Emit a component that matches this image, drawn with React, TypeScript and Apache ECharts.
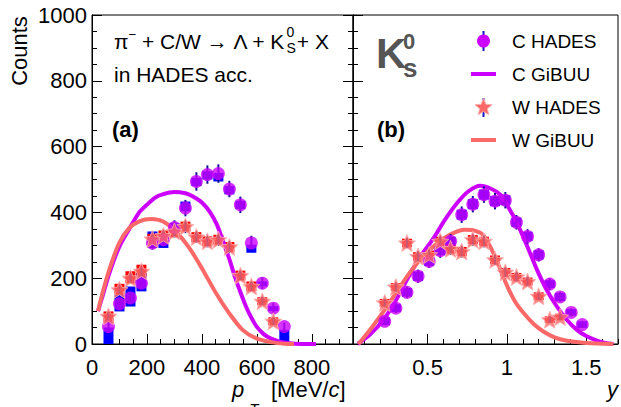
import React, { useEffect, useRef } from 'react';
import * as echarts from 'echarts';

const FONT = '"Liberation Sans", Arial, Helvetica, sans-serif';

// ---------- Panel (a): transverse momentum ----------
const ptX = [60, 100, 140, 180, 220, 260, 300, 340, 380, 420, 460, 500, 540, 580, 620, 660, 700];
const ptC = [53, 122, 140, 185, 307, 317, 354, 413, 494, 515, 518, 471, 423, 307, 185, 109, 53];
const ptCStat = [12, 15, 15, 18, 20, 20, 22, 25, 28, 28, 28, 25, 25, 22, 18, 15, 12];
const ptCBoxLo = [0, 99, 114, 160, 292, 292, 342, 403, 480, 500, 494, 455, 410, 277, 175, 100, 0];
const ptCBoxHi = [50, 150, 175, 216, 342, 325, 368, 433, 505, 525, 520, 480, 435, 302, 190, 115, 43];

const ptWX = [60, 100, 140, 180, 220, 260, 300, 340, 380, 420, 460, 500, 540, 580, 620, 660];
const ptW = [84, 165, 200, 221, 319, 329, 342, 357, 325, 312, 317, 295, 208, 175, 130, 69];
const ptWStat = [12, 15, 15, 15, 18, 18, 18, 20, 18, 18, 18, 18, 15, 15, 12, 10];
const ptWBoxLo = [64, 150, 185, 205, 300, 310, 325, 342, 310, 297, 302, 280, 193, 160, 118, 57];
const ptWBoxHi = [99, 183, 221, 241, 335, 345, 355, 372, 340, 327, 332, 310, 223, 190, 142, 81];

const ptGibuuC = [
  [22, 100], [40, 150], [63, 215], [99, 295], [136, 350], [170, 398], [196, 420], [230, 445],
  [257, 455], [300, 462], [340, 458], [366, 449], [400, 430], [430, 400], [455, 362], [480, 305],
  [500, 258], [520, 205], [540, 158], [560, 115], [580, 80], [600, 52], [625, 30], [650, 17],
  [680, 8], [720, 2], [760, 0], [815, 0],
];
const ptGibuuW = [
  [22, 100], [40, 160], [63, 226], [99, 307], [136, 353], [172, 373], [215, 380], [257, 373],
  [305, 342], [354, 292], [403, 226], [451, 155], [499, 94], [548, 43], [596, 18], [657, 5],
  [700, 1], [735, 0],
];

// ---------- Panel (b): rapidity ----------
const yX = [0.23, 0.30, 0.37, 0.44, 0.51, 0.58, 0.645, 0.715, 0.785, 0.855, 0.925, 0.99, 1.06, 1.13, 1.2, 1.27, 1.335, 1.405, 1.475];
const yC = [69, 109, 157, 206, 251, 284, 312, 393, 425, 454, 434, 437, 370, 327, 271, 182, 143, 96, 59];
const yCStat = [12, 15, 18, 20, 20, 22, 22, 25, 25, 25, 25, 25, 22, 22, 20, 18, 15, 12, 10];
const yCSys = [12, 12, 13, 14, 14, 14, 14, 15, 15, 15, 15, 15, 14, 14, 14, 12, 12, 10, 10];

const yWX = [0.23, 0.30, 0.37, 0.44, 0.51, 0.58, 0.645, 0.715, 0.785, 0.855, 0.925, 0.99, 1.06, 1.13, 1.2, 1.27, 1.335];
const yW = [125, 173, 307, 266, 271, 312, 289, 281, 317, 312, 256, 218, 204, 190, 145, 74, 82];
const yWStat = [12, 14, 16, 16, 16, 18, 18, 18, 18, 18, 16, 15, 15, 14, 12, 10, 10];
const yWSys = [12, 12, 13, 13, 13, 14, 14, 14, 14, 14, 13, 13, 12, 12, 12, 10, 10];

const yGibuuC = [
  [0.06, 0], [0.14, 30], [0.223, 74], [0.30, 132], [0.37, 195], [0.45, 262], [0.538, 322],
  [0.61, 378], [0.685, 428], [0.76, 465], [0.832, 481], [0.90, 472], [0.958, 454], [1.01, 415],
  [1.063, 368], [1.13, 295], [1.189, 226], [1.25, 165], [1.315, 114], [1.38, 72], [1.441, 43],
  [1.50, 24], [1.567, 10], [1.62, 3], [1.671, 0],
];
const yGibuuW = [
  [0.065, 0], [0.14, 45], [0.223, 99], [0.30, 155], [0.37, 205], [0.45, 255], [0.538, 297],
  [0.64, 332], [0.737, 347], [0.80, 344], [0.853, 330], [0.916, 275], [1.0, 178], [1.05, 130],
  [1.105, 94], [1.17, 60], [1.23, 38], [1.30, 20], [1.378, 10], [1.5, 3], [1.671, 0],
];

// tick values
const ptMajor = [0, 200, 400, 600, 800];
const ptMinor = [50, 100, 150, 250, 300, 350, 450, 500, 550, 650, 700, 750, 850, 900];
const yMajor = [0.5, 1, 1.5];
const yMinor = [0.1, 0.2, 0.3, 0.4, 0.6, 0.7, 0.8, 0.9, 1.1, 1.2, 1.3, 1.4, 1.6, 1.7];

const PURPLE = '#cc00ff';
const SALMON = '#fa6868';
const BAR = '#10109a';

function starPath() {
  let d = '';
  for (let k = 0; k < 10; k++) {
    const r = k % 2 ? 0.45 : 1;
    const a = -Math.PI / 2 + (k * Math.PI) / 5;
    d += (k ? 'L' : 'M') + (r * Math.cos(a)).toFixed(4) + ',' + (r * Math.sin(a)).toFixed(4) + ' ';
  }
  return d + 'Z';
}
function starPoints(cx: number, cy: number, R: number) {
  const pts: number[][] = [];
  for (let k = 0; k < 10; k++) {
    const r = k % 2 ? 0.45 * R : R;
    const a = -Math.PI / 2 + (k * Math.PI) / 5;
    pts.push([cx + r * Math.cos(a), cy + r * Math.sin(a)]);
  }
  return pts;
}

const boxSeries = (xs: number[], lo: number[], hi: number[], color: string, xi: number) => ({
  type: 'custom',
  xAxisIndex: xi,
  yAxisIndex: xi,
  encode: { x: 0, y: [1, 2] },
  data: xs.map((x, i) => [x, lo[i], hi[i]]),
  renderItem: (_p: any, api: any) => {
    const a = api.coord([api.value(0), api.value(2)]);
    const b = api.coord([api.value(0), api.value(1)]);
    return { type: 'rect', shape: { x: a[0] - 5, y: a[1], width: 10, height: b[1] - a[1] }, style: { fill: color } };
  },
  z: 1,
});
const barSeries = (xs: number[], ys: number[], err: number[], xi: number) => ({
  type: 'custom',
  xAxisIndex: xi,
  yAxisIndex: xi,
  encode: { x: 0, y: [1, 2] },
  data: xs.map((x, i) => [x, ys[i] - err[i], ys[i] + err[i]]),
  renderItem: (_p: any, api: any) => {
    const a = api.coord([api.value(0), api.value(2)]);
    const b = api.coord([api.value(0), api.value(1)]);
    return { type: 'line', shape: { x1: a[0], y1: a[1], x2: b[0], y2: b[1] }, style: { stroke: BAR, lineWidth: 2 } };
  },
  z: 3,
});
const curve = (data: number[][], color: string, xi: number, z: number) => ({
  type: 'line',
  xAxisIndex: xi,
  yAxisIndex: xi,
  data,
  smooth: 0.3,
  symbol: 'none',
  lineStyle: { color, width: 4 },
  z,
});

export default function App() {
  const ref = useRef<HTMLDivElement>(null);
  useEffect(() => {
    if (!ref.current) return;
    const chart = echarts.init(ref.current, null, { renderer: 'svg' });
    const ctx = document.createElement('canvas').getContext('2d')!;
    const tw = (t: string, size: number, extra = '') => {
      ctx.font = `${extra} ${size}px "Liberation Sans"`;
      return ctx.measureText(t).width;
    };

    const mainSize = 21;
    const x0 = 114;
    const wPi = tw('π', mainSize);
    const wMinus = tw('−', 13);
    const mid = ' + C/W → Λ + K';
    const xK = x0 + wPi + wMinus + tw(mid, mainSize);
    const xPlus = xK + tw('S', 14) + 1;

    const xp = 232;
    const wp = tw('p', 22, 'italic');
    const xBr = 271;
    const wMeV = tw('[MeV/', 22);
    const wc = tw('c', 22, 'italic');

    const txt = (text: string, x: number, y: number, size: number, opts: any = {}) => ({
      type: 'text',
      x,
      y,
      silent: true,
      rotation: opts.rotation || 0,
      style: {
        text,
        fontSize: size,
        fontFamily: FONT,
        fontWeight: opts.bold ? 'bold' : 'normal',
        fontStyle: opts.italic ? 'italic' : 'normal',
        fill: opts.color || '#000',
        textAlign: opts.align || 'left',
        textVerticalAlign: 'middle',
      },
      z: 100,
    });

    const axisCommon = {
      splitLine: { show: false },
      minorSplitLine: { show: false },
      axisLine: { show: true, onZero: false, lineStyle: { color: '#000', width: 1 } },
    };
    const labelStyle = { fontSize: 22, color: '#000', fontFamily: FONT, formatter: (v: number) => String(v) };

    const yAxisBase = (grid: number, pos: string, showLabel: boolean) => ({
      type: 'value',
      gridIndex: grid,
      position: pos,
      min: 0,
      max: 1000,
      interval: 200,
      ...axisCommon,
      axisTick: { show: true, inside: true, length: 10, lineStyle: { color: '#000' } },
      minorTick: { show: true, splitNumber: 4, length: 5, lineStyle: { color: '#000' } },
      axisLabel: { show: showLabel, ...labelStyle, margin: 5 },
    });

    chart.setOption({
      animation: false,
      grid: [
        { left: 92, top: 15, width: 261, height: 329, show: true, borderColor: '#000', borderWidth: 1, backgroundColor: 'transparent' },
        { left: 353, top: 15, width: 265, height: 329, show: true, borderColor: '#000', borderWidth: 1, backgroundColor: 'transparent' },
      ],
      xAxis: [
        {
          type: 'value', gridIndex: 0, min: 0, max: 950, position: 'bottom', ...axisCommon,
          axisTick: { show: true, inside: true, length: 10, customValues: ptMajor, lineStyle: { color: '#000' } },
          axisLabel: { ...labelStyle, margin: 12, customValues: ptMajor },
        },
        {
          type: 'value', gridIndex: 0, min: 0, max: 950, position: 'bottom', ...axisCommon,
          axisLine: { show: false },
          axisTick: { show: true, inside: true, length: 5, customValues: ptMinor, lineStyle: { color: '#000' } },
          axisLabel: { show: false },
        },
        {
          type: 'value', gridIndex: 1, min: 0.03, max: 1.7, position: 'bottom', ...axisCommon,
          axisTick: { show: true, inside: true, length: 10, customValues: yMajor, lineStyle: { color: '#000' } },
          axisLabel: { ...labelStyle, margin: 12, customValues: yMajor },
        },
        {
          type: 'value', gridIndex: 1, min: 0.03, max: 1.7, position: 'bottom', ...axisCommon,
          axisLine: { show: false },
          axisTick: { show: true, inside: true, length: 5, customValues: yMinor, lineStyle: { color: '#000' } },
          axisLabel: { show: false },
        },
      ],
      yAxis: [
        yAxisBase(0, 'left', true),
        yAxisBase(0, 'right', false),
        yAxisBase(1, 'left', false),
      ],
      series: [
        boxSeries(ptX, ptCBoxLo, ptCBoxHi, '#0000ff', 0),
        boxSeries(ptWX, ptWBoxLo, ptWBoxHi, '#ff0000', 0),
        boxSeries(yX, yC.map((v, i) => v - yCSys[i]), yC.map((v, i) => v + yCSys[i]), '#0000ff', 2),
        boxSeries(yWX, yW.map((v, i) => v - yWSys[i]), yW.map((v, i) => v + yWSys[i]), '#ff0000', 2),
        curve(ptGibuuC, PURPLE, 0, 2),
        curve(ptGibuuW, SALMON, 0, 2),
        curve(yGibuuC, PURPLE, 2, 2),
        curve(yGibuuW, SALMON, 2, 2),
        barSeries(ptX, ptC, ptCStat, 0),
        barSeries(ptWX, ptW, ptWStat, 0),
        barSeries(yX, yC, yCStat, 2),
        barSeries(yWX, yW, yWStat, 2),
        {
          type: 'scatter', xAxisIndex: 0, yAxisIndex: 0, symbol: 'circle', symbolSize: 13,
          itemStyle: { color: PURPLE }, data: ptX.map((x, i) => [x, ptC[i]]), z: 4,
        },
        {
          type: 'scatter', xAxisIndex: 2, yAxisIndex: 2, symbol: 'circle', symbolSize: 13,
          itemStyle: { color: PURPLE }, data: yX.map((x, i) => [x, yC[i]]), z: 4,
        },
        {
          type: 'scatter', xAxisIndex: 0, yAxisIndex: 0, symbol: 'path://' + starPath(), symbolSize: 17,
          itemStyle: { color: SALMON, borderColor: '#ffb0b0', borderWidth: 1 }, data: ptWX.map((x, i) => [x, ptW[i]]), z: 5,
        },
        {
          type: 'scatter', xAxisIndex: 2, yAxisIndex: 2, symbol: 'path://' + starPath(), symbolSize: 17,
          itemStyle: { color: SALMON, borderColor: '#ffb0b0', borderWidth: 1 }, data: yWX.map((x, i) => [x, yW[i]]), z: 5,
        },
      ],
      graphic: [
        // y title
        txt('Counts', 19, 51, 22, { rotation: Math.PI / 2, align: 'center' }),
        // x titles
        txt('p', xp, 389, 22, { italic: true }),
        txt('T', xp + wp + 5, 408, 15, { italic: true }),
        txt('[MeV/', xBr, 389, 22),
        txt('c', xBr + wMeV, 389, 22, { italic: true }),
        txt(']', xBr + wMeV + wc, 389, 22),
        txt('y', 618, 389, 22, { italic: true, align: 'right' }),
        // reaction text
        txt('π', x0, 41, mainSize),
        txt('−', x0 + wPi, 34, 13),
        txt(mid, x0 + wPi + wMinus, 41, mainSize),
        txt('0', xK + 1, 32, 14),
        txt('S', xK + 1, 48, 14),
        txt('+ X', xPlus + 1, 41, mainSize),
        txt('in HADES acc.', x0, 74, mainSize),
        txt('(a)', 112, 129, 22, { bold: true }),
        txt('(b)', 377, 129, 22, { bold: true }),
        // K0s label
        txt('K', 376, 53, 42, { bold: true, color: '#555' }),
        txt('0', 403, 41, 22, { bold: true, color: '#555' }),
        txt('s', 403, 68, 26, { bold: true, color: '#555' }),
        // legend
        { type: 'line', shape: { x1: 483.5, y1: 31, x2: 483.5, y2: 51 }, style: { stroke: '#1515c8', lineWidth: 2 }, z: 100 },
        { type: 'circle', shape: { cx: 483.5, cy: 41, r: 6.5 }, style: { fill: PURPLE }, z: 101 },
        txt('C HADES', 512, 41, 19),
        { type: 'line', shape: { x1: 471, y1: 74, x2: 496, y2: 74 }, style: { stroke: PURPLE, lineWidth: 4 }, z: 100 },
        txt('C GiBUU', 512, 74, 19),
        { type: 'line', shape: { x1: 483.5, y1: 98, x2: 483.5, y2: 117 }, style: { stroke: '#1515c8', lineWidth: 2 }, z: 100 },
        { type: 'polygon', shape: { points: starPoints(483.5, 107.5, 9) }, style: { fill: SALMON, stroke: '#ffb0b0', lineWidth: 1 }, z: 101 },
        txt('W HADES', 512, 107, 19),
        { type: 'line', shape: { x1: 471, y1: 140, x2: 496, y2: 140 }, style: { stroke: SALMON, lineWidth: 4 }, z: 100 },
        txt('W GiBUU', 512, 140, 19),
      ],
    });
    return () => chart.dispose();
  }, []);
  return <div ref={ref} style={{ position: 'fixed', left: 0, top: 0, width: 621, height: 407, background: '#fff' }} />;
}
